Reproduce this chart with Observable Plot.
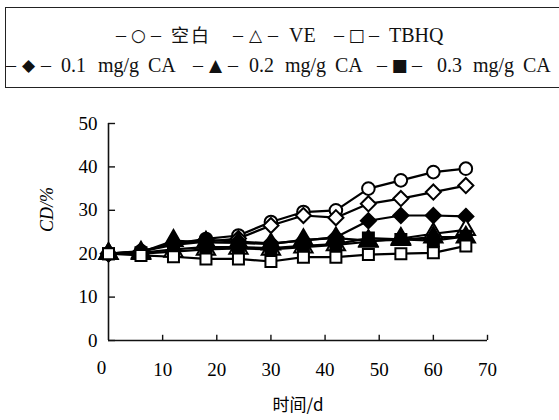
<!DOCTYPE html>
<html><head><meta charset="utf-8">
<script src="https://cdn.jsdelivr.net/npm/d3@7"></script>
<script src="https://cdn.jsdelivr.net/npm/@observablehq/plot@0.6"></script>
<style>
body{margin:0;background:#fff;}
#wrap{position:relative;width:559px;height:420px;overflow:hidden;font-family:"Liberation Serif",serif;color:#111;}
#legend{position:absolute;left:5px;top:7px;width:600px;height:79px;border:1.5px solid #222;border-right:none;}
.t{position:absolute;white-space:nowrap;font-size:20px;line-height:1;transform:translateY(-50%);}
.g{position:absolute;width:45px;display:flex;justify-content:space-between;align-items:center;transform:translateY(-50%);font-size:20px;line-height:1;}
.sym{font-family:"DejaVu Sans",sans-serif;font-size:17px;}
.cjk{font-family:"Noto Sans CJK SC",sans-serif;font-size:18px;letter-spacing:2px;}
#chart{position:absolute;left:0;top:100px;}
</style></head>
<body><div id="wrap"><div id="legend"></div><div id="chart"></div></div>
<script>
const days = [0, 6, 12, 18, 24, 30, 36, 42, 48, 54, 60, 66];
const blank   = [20.0, 20.6, 22.3, 23.4, 24.2, 27.3, 29.6, 30.0, 35.0, 36.9, 38.8, 39.6];
const openDia = [20.0, 20.5, 22.0, 22.8, 23.5, 26.5, 28.8, 28.3, 31.5, 32.7, 34.2, 35.7];
const ca01    = [20.0, 20.5, 22.3, 23.2, 22.8, 22.4, 23.0, 23.8, 27.6, 28.8, 28.8, 28.6];
const ca02    = [20.0, 20.3, 23.0, 22.6, 22.5, 22.2, 23.2, 23.6, 23.0, 23.2, 23.8, 23.8];
const ca03    = [20.0, 20.2, 21.0, 21.5, 21.5, 21.3, 21.8, 22.2, 23.6, 23.3, 23.0, 24.0];
const ve      = [20.0, 20.0, 20.5, 21.0, 21.2, 21.0, 21.5, 22.0, 22.8, 23.5, 24.6, 25.5];
const tbhq    = [20.0, 19.6, 19.3, 18.8, 18.8, 18.2, 19.2, 19.2, 19.8, 20.0, 20.2, 21.8];
const xTicks = [0, 10, 20, 30, 40, 50, 60, 70];
const yTicks = [0, 10, 20, 30, 40, 50];
const xLabel = "时间/d";
const yLabel = "CD/%";

const series = [
  {name: "空白", values: blank, symbol: "circle", fill: "white"},
  {name: "open diamond", values: openDia, symbol: "diamond2", fill: "white"},
  {name: "0.1 mg/g CA", values: ca01, symbol: "diamond2", fill: "black"},
  {name: "VE", values: ve, symbol: "triangle", fill: "white"},
  {name: "0.2 mg/g CA", values: ca02, symbol: "triangle", fill: "black"},
  {name: "0.3 mg/g CA", values: ca03, symbol: "square", fill: "black"},
  {name: "TBHQ", values: tbhq, symbol: "square", fill: "white"}
];
const rows = series.flatMap(s => days.map((d, i) => ({series: s.name, day: d, value: s.values[i]})));

// legend: positions relative to the legend box (page x - 5, page y - 7)
const legendGroups = [
  {x: 110, y: 27, sym: "○"}, {x: 227, y: 27, sym: "△"}, {x: 328, y: 27, sym: "□"},
  {x: 0, y: 57, sym: "◆"}, {x: 187, y: 57, sym: "▲"}, {x: 371, y: 57, sym: "■"}
];
const legendTexts = [
  {x: 165, y: 27, html: '<span class="cjk">空白</span>'},
  {x: 283, y: 27, html: 'VE'},
  {x: 383, y: 27, html: 'TBHQ'},
  {x: 55, y: 57, html: '0.1'}, {x: 92, y: 57, html: 'mg/g'}, {x: 142, y: 57, html: 'CA'},
  {x: 243, y: 57, html: '0.2'}, {x: 279, y: 57, html: 'mg/g'}, {x: 329, y: 57, html: 'CA'},
  {x: 431, y: 57, html: '0.3'}, {x: 467, y: 57, html: 'mg/g'}, {x: 517, y: 57, html: 'CA'}
];
const leg = document.getElementById("legend");
for (const g of legendGroups) {
  const el = document.createElement("div");
  el.className = "g";
  el.style.left = g.x + "px"; el.style.top = g.y + "px";
  el.innerHTML = '<span>–</span><span class="sym">' + g.sym + '</span><span>–</span>';
  leg.appendChild(el);
}
for (const t of legendTexts) {
  const el = document.createElement("div");
  el.className = "t";
  el.style.left = t.x + "px"; el.style.top = t.y + "px";
  el.innerHTML = t.html;
  leg.appendChild(el);
}

const marks = [
  Plot.ruleY([0], {x1: 0, x2: 70, strokeWidth: 1.6}),
  Plot.ruleX([0], {y1: 0, y2: 50, strokeWidth: 1.6}),
  Plot.ruleX(xTicks.slice(1), {y1: 0, y2: 1.2, strokeWidth: 1.4}),
  Plot.ruleY(yTicks, {x1: 0, x2: 1.3, strokeWidth: 1.4}),
  Plot.axisY({ticks: yTicks, tickSize: 0, tickPadding: 11, fontSize: 19, label: null, fill: "black"}),
  Plot.text(xTicks.slice(1), {x: d => d, frameAnchor: "bottom", dy: 35, fontSize: 19, fill: "black"}),
  Plot.text([0], {x: d => d, frameAnchor: "bottom", dy: 33, dx: -7, fontSize: 19, fill: "black"}),
  Plot.text([xLabel], {x: () => 35, frameAnchor: "bottom", dy: 70, fontSize: 17, fontFamily: "Noto Sans CJK SC", fill: "black"}),
  Plot.text([yLabel], {frameAnchor: "left", dx: -61, rotate: -90, fontSize: 18, fontStyle: "italic", fill: "black"}),
  Plot.line(rows, {x: "day", y: "value", z: "series", stroke: "black", strokeWidth: 2.2})
];
for (const s of series) {
  marks.push(Plot.dot(rows.filter(r => r.series === s.name), {
    x: "day", y: "value", symbol: () => s.symbol,
    r: s.symbol === "circle" ? 6.3 : s.symbol === "square" ? 6.2 : 6.8,
    fill: s.fill, stroke: "black", strokeWidth: 2
  }));
}

const chart = Plot.plot({
  width: 559, height: 320,
  marginLeft: 108, marginRight: 72, marginTop: 23, marginBottom: 80,
  x: {domain: [0, 70], axis: null},
  y: {domain: [0, 50], axis: null},
  symbol: {type: "identity"},
  style: {background: "transparent", fontFamily: "Liberation Serif", color: "#111"},
  marks
});
document.getElementById("chart").appendChild(chart);
</script></body></html>
